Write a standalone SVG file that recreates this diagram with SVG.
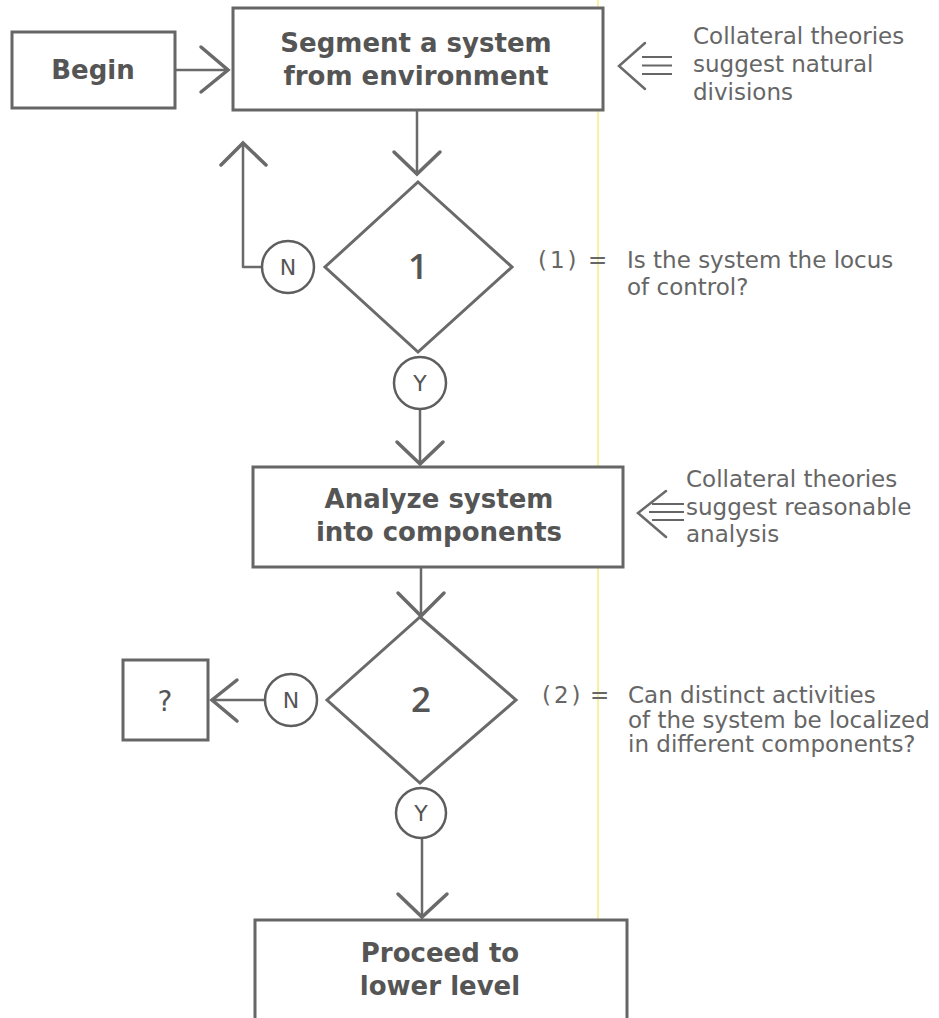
<svg xmlns="http://www.w3.org/2000/svg" width="939" height="1018" viewBox="0 0 939 1018">
<defs>
<style>
.box{fill:#fff;stroke:#666;stroke-width:3}
.dia{fill:#fff;stroke:#6a6a6a;stroke-width:3}
.circ{fill:#fff;stroke:#5e5e5e;stroke-width:2.5}
.ln{fill:none;stroke:#6a6a6a;stroke-width:2.5;stroke-linecap:round;stroke-linejoin:round}
.hd{fill:none;stroke:#6a6a6a;stroke-width:3.5;stroke-linecap:round;stroke-linejoin:miter}
.eq{fill:none;stroke:#666;stroke-width:2;stroke-linecap:butt}
.bt{font-family:"DejaVu Sans","Open Sans",sans-serif;font-weight:bold;font-size:26px;fill:#555;text-anchor:middle}
.num{font-family:"Open Sans","Noto Sans",sans-serif;font-weight:600;font-size:35px;fill:#555;text-anchor:middle}
.yn{font-family:"DejaVu Sans","Open Sans",sans-serif;font-size:22px;fill:#555;text-anchor:middle}
.note{font-family:"DejaVu Sans","Open Sans",sans-serif;font-size:23px;fill:#666}
</style>
</defs>
<rect width="939" height="1018" fill="#fff"/>
<line x1="598" y1="0" x2="598" y2="1018" stroke="#f3ec85" stroke-width="1.5"/>

<g id="connectors">
  <!-- Begin -> Segment -->
  <line class="ln" x1="175" y1="70" x2="228" y2="70"/>
  <polyline class="hd" points="201,47 228,70 201,92"/>
  <!-- Segment -> diamond 1 -->
  <line class="ln" x1="417" y1="110" x2="417" y2="174"/>
  <polyline class="hd" points="394,152 417,174 440,152"/>
  <!-- N1 loop back -->
  <polyline class="ln" points="262,267 243,267 243,143"/>
  <polyline class="hd" points="221,165 243,143 266,165"/>
  <!-- Y1 -> Analyze -->
  <line class="ln" x1="420" y1="409" x2="420" y2="464"/>
  <polyline class="hd" points="397,442 420,464 443,442"/>
  <!-- Analyze -> diamond 2 -->
  <line class="ln" x1="421" y1="567" x2="421" y2="616"/>
  <polyline class="hd" points="398,593 421,616 444,593"/>
  <!-- N2 -> ? -->
  <line class="ln" x1="265" y1="700" x2="212" y2="700"/>
  <polyline class="hd" points="237,680 212,700 237,721"/>
  <!-- Y2 -> Proceed -->
  <line class="ln" x1="422" y1="838" x2="422" y2="917"/>
  <polyline class="hd" points="398,894 422,917 447,894"/>
  <!-- collateral arrows -->
  <polyline class="hd" points="645,43 619,66 645,89" style="stroke-width:2.5"/>
  <line class="eq" x1="642" y1="57" x2="672" y2="57"/>
  <line class="eq" x1="642" y1="65.5" x2="672" y2="65.5"/>
  <line class="eq" x1="642" y1="74" x2="672" y2="74"/>
  <polyline class="hd" points="666,491 638,513 666,537" style="stroke-width:2.5"/>
  <line class="eq" x1="652" y1="504" x2="684" y2="504"/>
  <line class="eq" x1="649" y1="512" x2="684" y2="512"/>
  <line class="eq" x1="652" y1="520" x2="684" y2="520"/>
</g>

<g id="begin">
  <rect class="box" x="12" y="32" width="163" height="76"/>
  <text class="bt" x="93" y="79">Begin</text>
</g>

<g id="segment">
  <rect class="box" x="233" y="8" width="370" height="102"/>
  <text class="bt" x="416" y="52">Segment a system</text>
  <text class="bt" x="416" y="85">from environment</text>
</g>

<g id="note1">
  <text class="note" x="693" y="44">Collateral theories</text>
  <text class="note" x="693" y="72">suggest natural</text>
  <text class="note" x="693" y="100">divisions</text>
</g>

<g id="decision1">
  <polygon class="dia" points="418,182 512,267 418,352 325,267"/>
  <text class="num" x="418" y="279">1</text>
</g>

<g id="n1">
  <circle class="circ" cx="288" cy="267" r="26"/>
  <text class="yn" x="288" y="275">N</text>
</g>

<g id="y1">
  <circle class="circ" cx="420" cy="383" r="26"/>
  <text class="yn" x="420" y="391">Y</text>
</g>

<g id="def1">
  <text class="note" x="538" y="268" letter-spacing="3">(1)</text>
  <text class="note" x="588" y="268">=</text>
  <text class="note" x="627" y="268">Is the system the locus</text>
  <text class="note" x="627" y="295">of control?</text>
</g>

<g id="analyze">
  <rect class="box" x="253" y="467" width="370" height="100"/>
  <text class="bt" x="439" y="508">Analyze system</text>
  <text class="bt" x="439" y="541">into components</text>
</g>

<g id="note2">
  <text class="note" x="686" y="487">Collateral theories</text>
  <text class="note" x="686" y="515">suggest reasonable</text>
  <text class="note" x="686" y="542">analysis</text>
</g>

<g id="decision2">
  <polygon class="dia" points="420,617 516,700 420,783 327,700"/>
  <text class="num" x="421" y="712">2</text>
</g>

<g id="n2">
  <circle class="circ" cx="291" cy="700" r="26"/>
  <text class="yn" x="291" y="708">N</text>
</g>

<g id="unknown">
  <rect class="box" x="123" y="660" width="85" height="80"/>
  <text class="yn" x="165" y="711" style="font-size:28px">?</text>
</g>

<g id="y2">
  <circle class="circ" cx="421" cy="813" r="25"/>
  <text class="yn" x="421" y="821">Y</text>
</g>

<g id="def2">
  <text class="note" x="542" y="703" letter-spacing="3">(2)</text>
  <text class="note" x="590" y="703">=</text>
  <text class="note" x="628" y="703">Can distinct activities</text>
  <text class="note" x="628" y="728">of the system be localized</text>
  <text class="note" x="628" y="752">in different components?</text>
</g>

<g id="proceed">
  <rect class="box" x="255" y="920" width="372" height="110"/>
  <text class="bt" x="440" y="962">Proceed to</text>
  <text class="bt" x="440" y="995">lower level</text>
</g>
</svg>
